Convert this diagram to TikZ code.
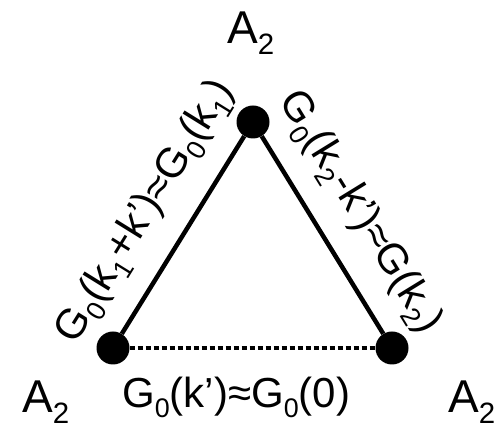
\documentclass[tikz,border=0pt]{standalone}
\usepackage{fontspec}
\setmainfont{Liberation Sans}
\usepackage{graphicx}

\begin{document}
\begin{tikzpicture}[x=1pt,y=1pt]
  \tikzstyle{vert}=[circle,fill=black,minimum size=33pt,inner sep=0pt]
  \tikzstyle{irrep}=[font=\fontsize{46}{50}\selectfont,inner sep=0pt,anchor=base west]
  \tikzstyle{prop}=[font=\fontsize{42}{46}\selectfont,inner sep=0pt]
  \def\sub#1{\raisebox{-.23em}{\scalebox{.64}{#1}}}

  \useasboundingbox (0,0) rectangle (503,425);

  \node [vert] (top) at (253,303) {};
  \node [vert] (left) at (113,77) {};
  \node [vert] (right) at (392,77) {};

  \node [irrep] (atop) at (227,381) {A\sub{2}};
  \node [irrep] (aleft) at (22,12) {A\sub{2}};
  \node [irrep] (aright) at (448,12) {A\sub{2}};

  \path [draw,line width=4.5pt] (left) edge node[prop,sloped,above=21pt]
     {G\sub{0}(k\sub{1}+k’)≈G\sub{0}(k\sub{1})} (top) ;
  \path [draw,line width=4.5pt] (top) edge node[prop,sloped,above=21pt]
     {G\sub{0}(k\sub{2}-k’)≈G(k\sub{2})} (right) ;
  \path [draw,line width=4pt,dash pattern=on 5pt off 3pt] (left) -- (right) ;

  \node [prop,anchor=base west] (bottom) at (122,17) {G\sub{0}(k’)≈G\sub{0}(0)};
\end{tikzpicture}
\end{document}
